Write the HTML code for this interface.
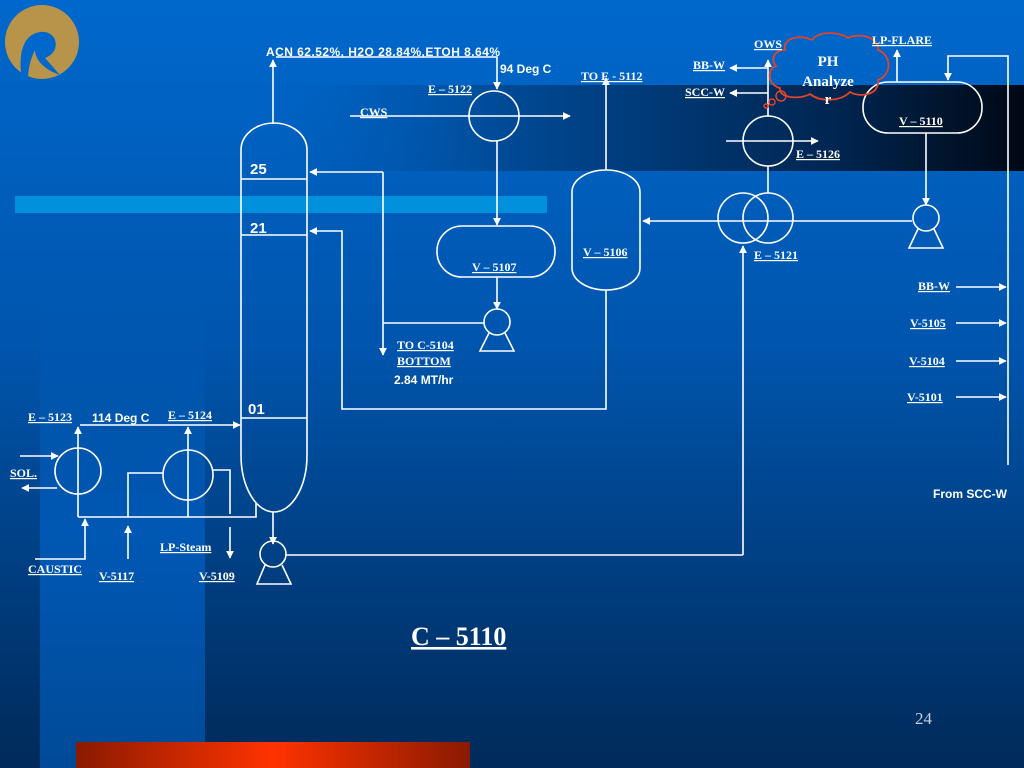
<!DOCTYPE html>
<html><head><meta charset="utf-8"><style>
html,body{margin:0;padding:0;}
body{width:1024px;height:768px;overflow:hidden;position:relative;font-family:"Liberation Serif",serif;}
svg{position:absolute;left:0;top:0;}
</style></head><body>
<svg width="1024" height="768" viewBox="0 0 1024 768" xmlns="http://www.w3.org/2000/svg">
<defs>
<linearGradient id="bg" x1="0" y1="0" x2="0" y2="1">
<stop offset="0" stop-color="#0068cc"/><stop offset="0.45" stop-color="#0055ad"/><stop offset="1" stop-color="#002a5a"/></linearGradient>
<linearGradient id="band" x1="0" y1="0" x2="1" y2="0">
<stop offset="0" stop-color="#0058b0" stop-opacity="0"/><stop offset="0.3" stop-color="#004a96"/><stop offset="0.75" stop-color="#002550"/><stop offset="1" stop-color="#000814"/></linearGradient>
<linearGradient id="side" x1="0" y1="0" x2="0" y2="1">
<stop offset="0" stop-color="#0060c0" stop-opacity="0"/><stop offset="0.5" stop-color="#0058b4"/><stop offset="1" stop-color="#004a98"/></linearGradient>
<linearGradient id="red" x1="0" y1="0" x2="1" y2="0">
<stop offset="0" stop-color="#8a1a00"/><stop offset="0.5" stop-color="#ff3300"/><stop offset="1" stop-color="#8a1a00"/></linearGradient>
<marker id="a" viewBox="0 0 10 10" refX="9" refY="5" markerWidth="5" markerHeight="5" orient="auto"><path d="M0,0L10,5L0,10z" fill="#fff"/></marker>
</defs>
<rect width="1024" height="768" fill="url(#bg)"/>
<rect x="40" y="300" width="165" height="468" fill="url(#side)"/>
<rect x="280" y="85" width="744" height="86" fill="url(#band)"/>
<rect x="15" y="196" width="532" height="17" fill="#0090dc"/>
<rect x="76" y="742" width="394" height="26" fill="url(#red)"/>
<circle cx="42" cy="42" r="37" fill="#b8944a"/>
<path d="M22,80 C18,55 22,35 40,32 C58,30 62,52 45,58 L60,75 C45,70 35,60 35,50 C30,60 28,70 28,80 Z" fill="#0068cc"/>
<g stroke="#fff" stroke-width="1.6" fill="none">
<path d="M241,455 L241,150 A33,27 0 0 1 307,150 L307,455 A33,57 0 0 1 241,455"/>
<line x1="241" y1="179" x2="307" y2="179"/><line x1="241" y1="235" x2="307" y2="235"/><line x1="241" y1="418" x2="307" y2="418"/>
<line x1="273" y1="124" x2="273" y2="60" marker-end="url(#a)"/>
<polyline points="276,57 497,57 497,89" marker-end="url(#a)"/>
<circle cx="494" cy="116" r="25"/>
<line x1="350" y1="116" x2="570" y2="116" marker-end="url(#a)"/>
<line x1="497" y1="141" x2="497" y2="225" marker-end="url(#a)"/>
<rect x="437" y="226" width="118" height="51" rx="25"/>
<line x1="497" y1="277" x2="497" y2="309" marker-end="url(#a)"/>
<circle cx="497" cy="322" r="13"/><path d="M489,333 L480,351 L514,351 L505,333"/>
<line x1="484" y1="323" x2="383" y2="323"/>
<polyline points="383,172 383,355" marker-end="url(#a)"/>
<polyline points="383,172 310,172" marker-end="url(#a)"/>
<polyline points="606,290 606,409 342,409 342,231 310,231" marker-end="url(#a)"/>
<rect x="572" y="170" width="68" height="120" rx="34" ry="22"/>
<line x1="606" y1="170" x2="606" y2="78" marker-end="url(#a)"/>
<circle cx="743" cy="218" r="25"/><circle cx="768" cy="218" r="25"/>
<line x1="912" y1="221" x2="643" y2="221" marker-end="url(#a)"/>
<line x1="768" y1="193" x2="768" y2="166"/>
<circle cx="768" cy="141" r="25"/>
<line x1="726" y1="141" x2="818" y2="141" marker-end="url(#a)"/>
<line x1="768" y1="116" x2="768" y2="60" marker-end="url(#a)"/>
<line x1="768" y1="68" x2="730" y2="68" marker-end="url(#a)"/>
<line x1="768" y1="93" x2="730" y2="93" marker-end="url(#a)"/>
<line x1="743" y1="555" x2="743" y2="246" marker-end="url(#a)"/>
<rect x="863" y="82" width="119" height="51" rx="25"/>
<line x1="897" y1="82" x2="897" y2="50" marker-end="url(#a)"/>
<polyline points="1008,465 1008,56 948,56 948,80" marker-end="url(#a)"/>
<line x1="926" y1="133" x2="926" y2="205" marker-end="url(#a)"/>
<circle cx="926" cy="218" r="13"/><path d="M918,229 L909,248 L943,248 L934,229"/>
<line x1="956" y1="287" x2="1006" y2="287" marker-end="url(#a)"/>
<line x1="956" y1="323" x2="1006" y2="323" marker-end="url(#a)"/>
<line x1="956" y1="361" x2="1006" y2="361" marker-end="url(#a)"/>
<line x1="956" y1="397" x2="1006" y2="397" marker-end="url(#a)"/>
<line x1="273" y1="512" x2="273" y2="544" marker-end="url(#a)"/>
<circle cx="273" cy="554" r="13"/><path d="M265,565 L257,584 L291,584 L282,565"/>
<line x1="286" y1="555" x2="743" y2="555"/>
<circle cx="78" cy="471" r="23"/><circle cx="188" cy="475" r="25"/>
<line x1="78" y1="517" x2="78" y2="427" marker-end="url(#a)"/>
<line x1="80" y1="425" x2="240" y2="425" marker-end="url(#a)"/>
<line x1="188" y1="517" x2="188" y2="427" marker-end="url(#a)"/>
<polyline points="78,517 256,517 256,503"/>
<polyline points="35,559 85,559 85,519" marker-end="url(#a)"/>
<line x1="128" y1="559" x2="128" y2="526" marker-end="url(#a)"/>
<polyline points="128,517 128,473 163,473"/>
<polyline points="213,470 230,470 230,514"/>
<line x1="230" y1="527" x2="230" y2="558" marker-end="url(#a)"/>
<line x1="20" y1="456" x2="58" y2="456" marker-end="url(#a)"/>
<line x1="57" y1="488" x2="22" y2="488" marker-end="url(#a)"/>
</g>
<path d="M785,50 C782,38 800,34 812,40 C820,30 840,32 848,38 C860,32 880,38 878,50 C892,55 892,75 878,80 C880,95 860,98 850,92 C840,102 820,102 810,94 C800,100 778,98 780,88 C768,85 766,70 776,66 C770,58 775,50 785,50 Z" fill="none" stroke="#e0442a" stroke-width="1.8"/>
<circle cx="781" cy="96" r="5" fill="none" stroke="#e0442a" stroke-width="1.5"/>
<circle cx="772" cy="102" r="3" fill="none" stroke="#e0442a" stroke-width="1.5"/>
<circle cx="766" cy="106" r="2" fill="none" stroke="#e0442a" stroke-width="1.5"/>
<g fill="#fff" font-family="Liberation Serif, serif" font-weight="bold" font-size="12" text-decoration="underline">
<text x="428" y="93">E – 5122</text>
<text x="360" y="116">CWS</text>
<text x="581" y="80">TO E - 5112</text>
<text x="472" y="271">V – 5107</text>
<text x="583" y="256">V – 5106</text>
<text x="397" y="349">TO C-5104</text>
<text x="397" y="365">BOTTOM</text>
<text x="754" y="48">OWS</text>
<text x="693" y="69">BB-W</text>
<text x="685" y="96">SCC-W</text>
<text x="872" y="44">LP-FLARE</text>
<text x="899" y="125">V – 5110</text>
<text x="796" y="158">E – 5126</text>
<text x="754" y="259">E – 5121</text>
<text x="918" y="290">BB-W</text>
<text x="910" y="327">V-5105</text>
<text x="909" y="365">V-5104</text>
<text x="907" y="401">V-5101</text>
<text x="28" y="421">E – 5123</text>
<text x="168" y="419">E – 5124</text>
<text x="10" y="477">SOL.</text>
<text x="28" y="573">CAUSTIC</text>
<text x="99" y="580">V-5117</text>
<text x="160" y="551">LP-Steam</text>
<text x="199" y="580">V-5109</text>
</g>
<g fill="#fff" font-family="Liberation Sans, sans-serif" font-weight="bold" font-size="12">
<text x="266" y="56" textLength="234">ACN 62.52%, H2O 28.84%,ETOH 8.64%</text>
<text x="500" y="73">94 Deg C</text>
<text x="394" y="384">2.84 MT/hr</text>
<text x="92" y="422">114 Deg C</text>
<text x="933" y="498">From SCC-W</text>
<text x="250" y="174" font-size="15">25</text>
<text x="250" y="233" font-size="15">21</text>
<text x="248" y="414" font-size="15">01</text>
</g>
<g fill="#fff" font-family="Liberation Serif, serif" font-weight="bold" font-size="15" text-anchor="middle">
<text x="828" y="66">PH</text>
<text x="828" y="86">Analyze</text>
<text x="828" y="104">r</text>
</g>
<text x="411" y="645" fill="#fff" font-family="Liberation Serif, serif" font-weight="bold" font-size="26" text-decoration="underline">C – 5110</text>
<text x="915" y="724" fill="#ccd" font-family="Liberation Serif, serif" font-size="17">24</text>
</svg>
</body></html>
